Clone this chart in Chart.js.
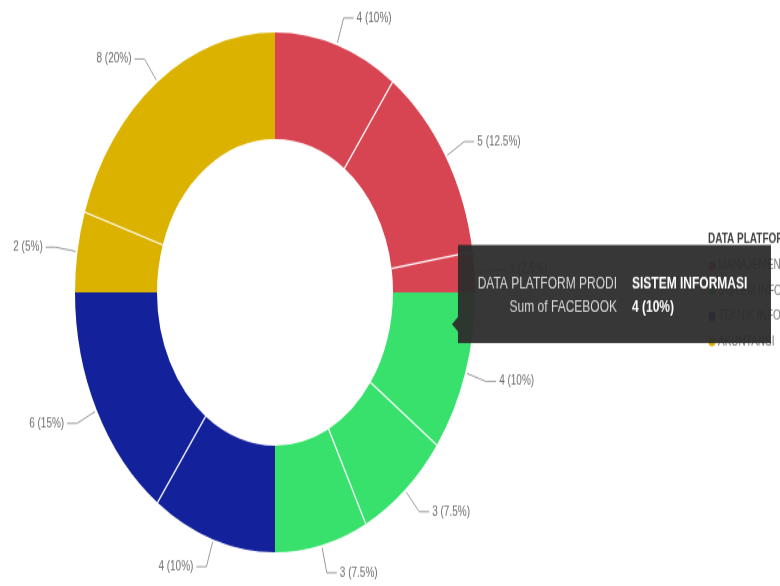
<!DOCTYPE html>
<html>
<head>
<meta charset="utf-8">
<script src="https://cdn.jsdelivr.net/npm/chart.js"></script>
<style>
  html, body { margin: 0; padding: 0; background: #fff; overflow: hidden; }
</style>
</head>
<body>
<canvas id="chart" width="780" height="451" style="display:block;width:780px;height:586px"></canvas>
<script>
// program studi (legend categories) and their colours
const prodi = ['MANAJEMEN', 'SISTEM INFORMASI', 'TEKNIK INFORMATIKA', 'AKUNTANSI']
const prodiColors = ['#D84552', '#38E06C', '#13229B', '#DCB200']
// one slice per row, clockwise from the top
const sliceProdi = [0, 0, 0, 1, 1, 1, 2, 2, 3, 3]
const facebook = [4, 5, 1, 4, 3, 3, 4, 6, 2, 8]
const legendTitle = 'DATA PLATFORM PRODI'
const measureName = 'Sum of FACEBOOK'
const hoveredSlice = 3

const total = facebook.reduce((a, b) => a + b, 0)
const pctText = v => `${v} (${+(v / total * 100).toFixed(1)}%)`

const labelFont = '10px "Liberation Sans", Arial, sans-serif'

const donutExtras = {
  id: 'donutExtras',
  afterDatasetsDraw(chart){
    const ctx = chart.ctx
    const arcs = chart.getDatasetMeta(0).data
    ctx.save()
    // thin white seams between slices of the same prodi
    ctx.strokeStyle = '#fff'
    ctx.lineWidth = 1.2
    arcs.forEach((arc, i) => {
      if(i === 0 || sliceProdi[i] !== sliceProdi[i - 1]) return
      const a = arc.startAngle
      ctx.beginPath()
      ctx.moveTo(arc.x + Math.cos(a) * arc.innerRadius, arc.y + Math.sin(a) * arc.innerRadius)
      ctx.lineTo(arc.x + Math.cos(a) * arc.outerRadius, arc.y + Math.sin(a) * arc.outerRadius)
      ctx.stroke()
    })
    // outside data labels with leader lines
    ctx.font = labelFont
    ctx.textBaseline = 'middle'
    ctx.strokeStyle = '#9a9a9a'
    ctx.lineWidth = 1
    ctx.fillStyle = '#6b6b6b'
    arcs.forEach((arc, i) => {
      const mid = (arc.startAngle + arc.endAngle) / 2
      const cx = Math.cos(mid), cy = Math.sin(mid)
      const r0 = arc.outerRadius + 2, r1 = arc.outerRadius + 22
      const ex = arc.x + cx * r1, ey = arc.y + cy * r1
      const dir = cx >= 0 ? 1 : -1
      ctx.beginPath()
      ctx.moveTo(arc.x + cx * r0, arc.y + cy * r0)
      ctx.lineTo(ex, ey)
      ctx.lineTo(ex + dir * 10, ey)
      ctx.stroke()
      ctx.textAlign = dir > 0 ? 'left' : 'right'
      ctx.fillText(pctText(facebook[i]), ex + dir * 13, ey)
    })
    ctx.restore()
  },
  afterDraw(chart){
    const ctx = chart.ctx
    ctx.save()
    // legend on the right
    ctx.textBaseline = 'middle'
    ctx.textAlign = 'left'
    ctx.font = 'bold 10px "Liberation Sans", Arial, sans-serif'
    ctx.fillStyle = '#444'
    ctx.fillText(legendTitle, 708, 184.6)
    ctx.font = '10px "Liberation Sans", Arial, sans-serif'
    prodi.forEach((name, i) => {
      const y = 204.5 + i * 19.5
      ctx.fillStyle = prodiColors[i]
      ctx.beginPath()
      ctx.arc(712, y, 3.5, 0, Math.PI * 2)
      ctx.fill()
      ctx.fillStyle = '#777'
      ctx.fillText(name, 718, y)
    })

    // tooltip for the hovered slice
    const arc = chart.getDatasetMeta(0).data[hoveredSlice]
    const a = arc.startAngle + 0.22 * (arc.endAngle - arc.startAngle)
    const r = arc.innerRadius + 0.74 * (arc.outerRadius - arc.innerRadius)
    const tx = arc.x + Math.cos(a) * r, ty = arc.y + Math.sin(a) * r
    const left = tx + 6, top = ty - 61, w = 313, h = 75.4
    ctx.fillStyle = 'rgba(44,44,44,0.95)'
    ctx.beginPath()
    ctx.moveTo(left, top)
    ctx.lineTo(left + w, top)
    ctx.lineTo(left + w, top + h)
    ctx.lineTo(left, top + h)
    ctx.lineTo(left, ty + 5.5)
    ctx.lineTo(tx, ty)
    ctx.lineTo(left, ty - 5.5)
    ctx.closePath()
    ctx.fill()
    ctx.font = '12px "Liberation Sans", Arial, sans-serif'
    ctx.fillStyle = '#d8d8d8'
    ctx.textAlign = 'right'
    ctx.fillText(legendTitle, left + 159, top + 30)
    ctx.fillText(measureName, left + 159, top + 47.7)
    ctx.font = 'bold 12px "Liberation Sans", Arial, sans-serif'
    ctx.fillStyle = '#fff'
    ctx.textAlign = 'left'
    ctx.fillText(prodi[sliceProdi[hoveredSlice]], left + 174, top + 30)
    ctx.fillText(pctText(facebook[hoveredSlice]), left + 174, top + 47.7)
    ctx.restore()
  }
}

new Chart(document.getElementById('chart'), {
  type: 'doughnut',
  data: {
    labels: sliceProdi.map(i => prodi[i]),
    datasets: [{
      data: facebook,
      backgroundColor: sliceProdi.map(i => prodiColors[i]),
      borderWidth: 0
    }]
  },
  options: {
    responsive: false,
    animation: false,
    events: [],
    cutout: '59%',
    layout: { padding: { left: 75, right: 305, top: 25, bottom: 26 } },
    plugins: {
      legend: { display: false },
      tooltip: { enabled: false }
    }
  },
  plugins: [donutExtras]
})
</script>
</body>
</html>
